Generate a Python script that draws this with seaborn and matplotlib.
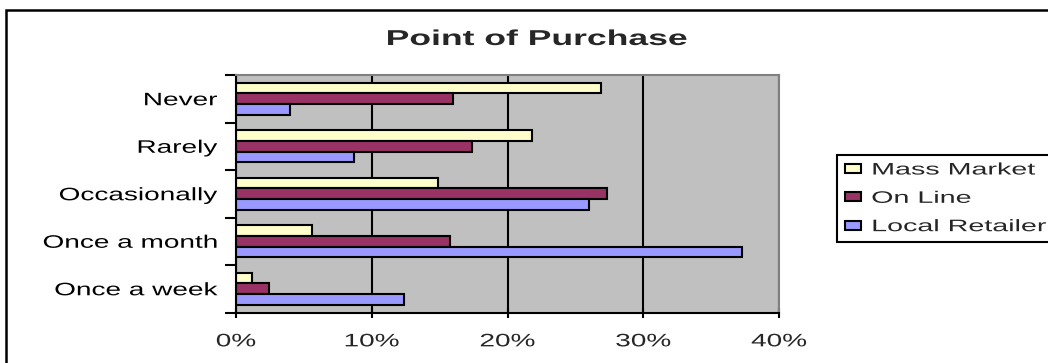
import matplotlib
matplotlib.use("Agg")
import matplotlib.pyplot as plt
import seaborn as sns
import pandas as pd
from matplotlib.patheffects import AbstractPathEffect
from matplotlib.transforms import Affine2D
from matplotlib.patches import Rectangle
from matplotlib.ticker import FuncFormatter

# ---- data ----
categories = ["Never", "Rarely", "Occasionally", "Once a month", "Once a week"]
series = ["Mass Market", "On Line", "Local Retailer"]
mass_market = [0.269, 0.218, 0.149, 0.056, 0.012]
on_line = [0.160, 0.174, 0.273, 0.158, 0.024]
local_retailer = [0.040, 0.087, 0.260, 0.373, 0.124]
x_ticks = [0.0, 0.1, 0.2, 0.3, 0.4]
title = "Point of Purchase"

colors = ["#FFFFCC", "#993366", "#9999FF"]

df = pd.DataFrame({
    "category": categories * 3,
    "series": [series[0]] * 5 + [series[1]] * 5 + [series[2]] * 5,
    "value": mass_market + on_line + local_retailer,
})


class Stretch(AbstractPathEffect):
    """Draw text horizontally widened (the reference text is stretched)."""
    def __init__(self, sx, anchor="left"):
        super().__init__()
        self.sx = sx
        self.anchor = anchor

    def draw_path(self, renderer, gc, tpath, affine, rgbFace=None):
        ext = tpath.get_extents()
        if self.anchor == "left":
            cx = 0.0
        elif self.anchor == "center":
            cx = (ext.x0 + ext.x1) / 2.0
        else:
            cx = ext.x1
        t = Affine2D().translate(-cx, 0).scale(self.sx, 1.0).translate(cx, 0) + affine
        renderer.draw_path(gc, tpath, t, rgbFace)


sns.set_style("white")
plt.rcParams["font.family"] = ["Liberation Sans", "DejaVu Sans"]

W, H = 1048, 363
fig = plt.figure(figsize=(W / 100, H / 100), dpi=100)
ax = fig.add_axes([236 / W, 1 - 312.5 / H, (779 - 236) / W, (312.5 - 75) / H])

sns.barplot(data=df, y="category", x="value", hue="series", order=categories,
            hue_order=series, palette=colors, orient="h", width=0.68,
            edgecolor="black", linewidth=1.5, saturation=1, ax=ax, legend=True)

handles, labels = ax.get_legend_handles_labels()
if ax.get_legend() is not None:
    ax.get_legend().remove()

ax.set_facecolor("#C0C0C0")
ax.set_xlim(0, 0.4)
ax.set_ylim(4.5, -0.5)
ax.set_xlabel("")
ax.set_ylabel("")
ax.set_axisbelow(True)
ax.set_xticks(x_ticks)
ax.xaxis.set_major_formatter(FuncFormatter(lambda v, p: f"{v * 100:.0f}%"))
ax.grid(axis="x", color="black", linewidth=1.5)
ax.grid(axis="y", visible=False)

ax.set_yticks(range(len(categories)))
ax.set_yticklabels(categories)
ax.set_yticks([i - 0.5 for i in range(len(categories) + 1)], minor=True)
ax.tick_params(axis="y", which="major", length=0, pad=13.5, labelsize=13, colors="black")
ax.tick_params(axis="y", which="minor", length=8, width=1.5, direction="out",
               color="black", left=True)
ax.tick_params(axis="x", which="major", length=7, width=1.5, direction="inout",
               pad=11.5, labelsize=13, color="black", bottom=True)

for side in ["left", "bottom"]:
    ax.spines[side].set_color("black")
    ax.spines[side].set_linewidth(1.5)
for side in ["top", "right"]:
    ax.spines[side].set_color("#808080")
    ax.spines[side].set_linewidth(1.5)

for t in ax.get_yticklabels():
    t.set_path_effects([Stretch(1.55, "right")])
for t in ax.get_xticklabels():
    t.set_path_effects([Stretch(1.55, "center")])

fig.text(537 / W, 1 - 45 / H, title, ha="center", va="baseline",
         fontsize=15.5, fontweight="bold", path_effects=[Stretch(1.65, "center")])

leg = fig.legend(handles, labels, loc="upper left",
                 bbox_to_anchor=(837 / W, 1 - 155 / H, (1075 - 837) / W, 0.0),
                 mode="expand", ncol=1, fontsize=12, frameon=True, fancybox=False,
                 edgecolor="black", framealpha=1, borderpad=0.45, labelspacing=0.8,
                 handlelength=1.0, handleheight=0.45, handletextpad=0.6,
                 borderaxespad=0)
leg.get_frame().set_linewidth(1.5)
for t in leg.get_texts():
    t.set_path_effects([Stretch(1.72, "left")])

# outer chart border
fig.add_artist(Rectangle((6 / W, -0.05), 1.2, 1.05 - 10 / H, transform=fig.transFigure,
                         fill=False, edgecolor="black", linewidth=1.8))

fig.savefig("out.png", dpi=100)
